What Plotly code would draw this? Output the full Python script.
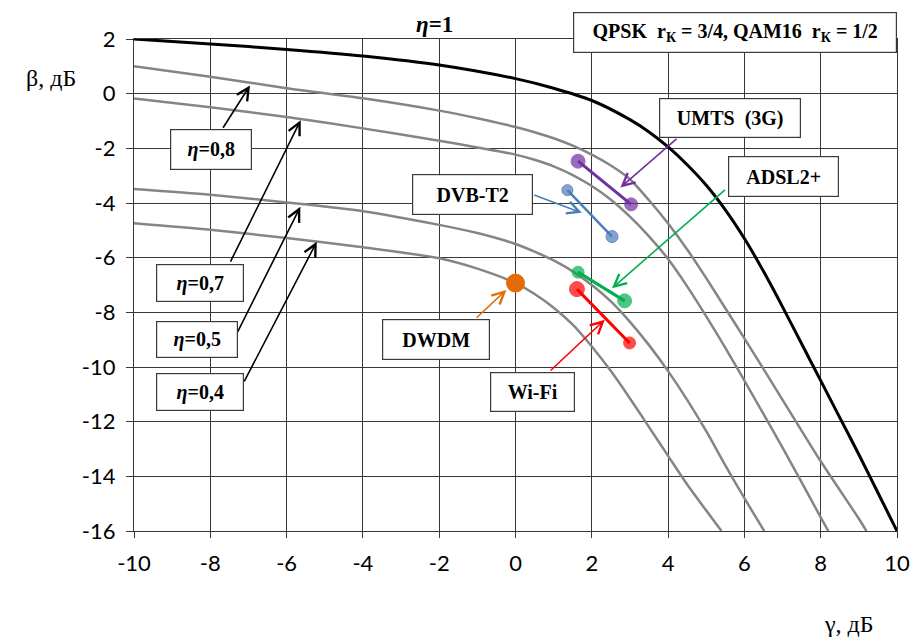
import plotly.graph_objects as go

# ---- data ----
g_eta10 = [-10, -8, -6, -4, -2, 0, 1, 2, 3, 3.5, 4, 4.5, 5, 5.5, 6, 6.5, 7, 7.5, 8, 8.5, 9, 9.5, 10]
b_eta10 = [2.0, 1.82, 1.62, 1.38, 1.05, 0.55, 0.2, -0.25, -0.95, -1.4, -1.95, -2.6, -3.35, -4.25, -5.3, -6.5, -7.8, -9.15, -10.5, -11.85, -13.2, -14.6, -16.0]

g_eta08 = [-10, -8, -6, -4, -2, -1, 0, 0.5, 1, 1.5, 2, 2.5, 3, 3.5, 4, 4.5, 5, 5.5, 6, 7, 8, 9, 9.2]
b_eta08 = [1.0, 0.62, 0.2, -0.17, -0.62, -0.9, -1.22, -1.41, -1.63, -1.9, -2.23, -2.63, -3.13, -3.9, -4.75, -5.7, -6.75, -7.85, -8.95, -11.2, -13.45, -15.55, -16.0]

g_eta07 = [-10, -8, -6, -4, -2, -1, 0, 0.5, 1, 1.5, 2, 2.5, 3, 3.5, 4, 4.5, 5, 5.5, 6, 7, 8, 8.2]
b_eta07 = [-0.18, -0.5, -0.85, -1.27, -1.72, -1.97, -2.23, -2.42, -2.66, -2.98, -3.38, -3.88, -4.5, -5.22, -6.05, -7.05, -8.15, -9.3, -10.5, -12.95, -15.5, -16.0]

g_eta05 = [-10, -8, -6, -4, -2, -1, 0, 0.5, 1, 1.5, 2, 2.5, 3, 3.5, 4, 4.5, 5, 5.5, 6, 6.52]
b_eta05 = [-3.49, -3.7, -3.98, -4.3, -4.8, -5.1, -5.5, -5.78, -6.1, -6.5, -7.0, -7.6, -8.35, -9.2, -10.15, -11.2, -12.35, -13.6, -14.8, -16.0]

g_eta04 = [-10, -8, -6, -4, -2, -1, 0, 0.5, 1, 1.5, 2, 2.5, 3, 3.5, 4, 4.5, 5, 5.4]
b_eta04 = [-4.74, -4.98, -5.28, -5.62, -6.02, -6.4, -6.93, -7.33, -7.83, -8.45, -9.25, -10.15, -11.15, -12.2, -13.25, -14.3, -15.25, -16.0]

umts_g = [1.64, 3.03]
umts_b = [-2.47, -4.05]
dvb_g = [1.36, 2.53]
dvb_b = [-3.53, -5.23]
adsl_g = [1.64, 2.86]
adsl_b = [-6.53, -7.58]
wifi_g = [1.61, 2.99]
wifi_b = [-7.15, -9.12]
dwdm_g = [0.0]
dwdm_b = [-6.93]

x_ticks = [-10, -8, -6, -4, -2, 0, 2, 4, 6, 8, 10]
y_ticks = [2, 0, -2, -4, -6, -8, -10, -12, -14, -16]

SERIF = "Liberation Serif"
GRAY = "#858585"
GRID = "#383838"

W, H = 922, 642
L, T, R, B = 134, 39, 15, 111
pw, ph = W - L - R, H - T - B

def px(x):
    return (x - L) / pw

def py(y):
    return 1 - (y - T) / ph

fig = go.Figure()

for g, b in [(g_eta08, b_eta08), (g_eta07, b_eta07), (g_eta05, b_eta05), (g_eta04, b_eta04)]:
    fig.add_trace(go.Scatter(x=g, y=b, mode="lines",
                             line=dict(color=GRAY, width=2.5, shape="spline", smoothing=0.7),
                             hoverinfo="skip", showlegend=False))
fig.add_trace(go.Scatter(x=g_eta10, y=b_eta10, mode="lines",
                         line=dict(color="black", width=3, shape="spline", smoothing=0.7),
                         hoverinfo="skip", showlegend=False))

def seg(g, b, color, sizes, lw=2.5, outline=None):
    fig.add_trace(go.Scatter(x=g, y=b, mode="lines+markers",
                             line=dict(color=color, width=lw),
                             marker=dict(color=color, size=sizes,
                                         line=dict(color=outline or color, width=1)),
                             showlegend=False, hoverinfo="skip"))

seg(umts_g, umts_b, "#7030A0", [14, 13], lw=3)
seg(dvb_g, dvb_b, "#4A7EBB", [11, 12], lw=2.5, outline="#2F5597")
seg(adsl_g, adsl_b, "#00B050", [12, 14], lw=3)
seg(wifi_g, wifi_b, "#FF0000", [15, 12], lw=3)
fig.add_trace(go.Scatter(x=dwdm_g, y=dwdm_b, mode="markers",
                         marker=dict(color="#E36C09", size=18, line=dict(color="#E36C09", width=1)),
                         showlegend=False, hoverinfo="skip"))

ann = []

def arrow(hx, hy, tx, ty, color):
    ann.append(dict(x=hx, y=hy, ax=tx, ay=ty, xref="x", yref="y", axref="x", ayref="y",
                    text="", showarrow=True, arrowhead=5, arrowsize=1.5, arrowwidth=1.6,
                    arrowcolor=color, standoff=0, startstandoff=0))

def box(x, y, text, w, h, size=20, paper=False):
    ann.append(dict(x=x, y=y, xref="paper" if paper else "x", yref="paper" if paper else "y",
                    text=text, showarrow=False,
                    font=dict(family=SERIF, size=size, color="black"),
                    bgcolor="white", bordercolor="#3a3a3a", borderwidth=1.2, borderpad=0,
                    width=w, height=h, align="center", valign="middle",
                    xanchor="center", yanchor="middle"))

def label(xp, yp, text, size):
    ann.append(dict(x=px(xp), y=py(yp), xref="paper", yref="paper", text=text, showarrow=False,
                    font=dict(family=SERIF, size=size, color="black"),
                    xanchor="center", yanchor="middle"))

# pointer arrows (head first, then tail)
arrow(-6.96, 0.30, -7.69, -1.30, "black")
arrow(-5.63, -0.97, -7.49, -6.20, "black")
arrow(-5.64, -4.14, -7.30, -8.76, "black")
arrow(-5.21, -5.42, -7.13, -10.58, "black")
arrow(2.75, -3.43, 4.26, -1.61, "#7030A0")
arrow(2.53, -7.12, 5.53, -3.47, "#00B050")
arrow(1.74, -4.36, 0.45, -3.69, "#4A7EBB")
arrow(-0.24, -7.18, -1.06, -8.25, "#E36C09")
arrow(2.34, -8.27, 0.88, -10.18, "#FF0000")

box(-7.97, -2.05, "<b><i>η</i>=0,8</b>", 80, 39)
box(-8.27, -6.91, "<b><i>η</i>=0,7</b>", 86, 36)
box(-8.36, -9.01, "<b><i>η</i>=0,5</b>", 80, 35)
box(-8.27, -10.92, "<b><i>η</i>=0,4</b>", 86, 36)
box(5.63, -0.88, "<b>UMTS  (3G)</b>", 140, 38)
box(7.02, -3.04, "<b>ADSL2+</b>", 109, 39)
box(-1.12, -3.70, "<b>DVB-T2</b>", 119, 39)
box(-2.09, -8.99, "<b>DWDM</b>", 106, 39)
box(0.45, -10.92, "<b>Wi-Fi</b>", 83, 38)
box(px(743), py(32), "<b>QPSK  r<sub>К</sub> = 3/4, QAM16  r<sub>К</sub> = 1/2</b>", 322, 39,
    size=20, paper=True)

# title and axis labels (page pixel positions)
label(438, 25, "<b><i>η</i>=1</b>", 23)
label(50, 78, "β, дБ", 24)
label(858, 624, "γ, дБ", 24)

fig.update_layout(
    width=W, height=H,
    margin=dict(l=L, r=R, t=T, b=B),
    paper_bgcolor="white", plot_bgcolor="white",
    annotations=ann,
    showlegend=False,
)
fig.update_xaxes(range=[-10, 10], tickvals=x_ticks, ticktext=[str(v) for v in x_ticks],
                 showgrid=True, gridcolor=GRID, gridwidth=1.3, zeroline=False,
                 showline=True, linecolor=GRID, linewidth=1.3, mirror=True,
                 ticks="outside", ticklen=6, tickcolor=GRID, tickwidth=1.3,
                 tickfont=dict(family="Lato", size=22, color="black"), ticklabelstandoff=6)
fig.update_yaxes(range=[-16, 2], tickvals=y_ticks, ticktext=[str(v) for v in y_ticks],
                 showgrid=True, gridcolor=GRID, gridwidth=1.3, zeroline=False,
                 showline=True, linecolor=GRID, linewidth=1.3, mirror=True,
                 ticks="outside", ticklen=7, tickcolor=GRID, tickwidth=1.3,
                 tickfont=dict(family="Lato", size=22, color="black"), ticklabelstandoff=6)

fig.write_html("out.html", config={"displayModeBar": False},
               post_script="document.body.style.margin='0px';document.body.style.overflow='hidden';")
